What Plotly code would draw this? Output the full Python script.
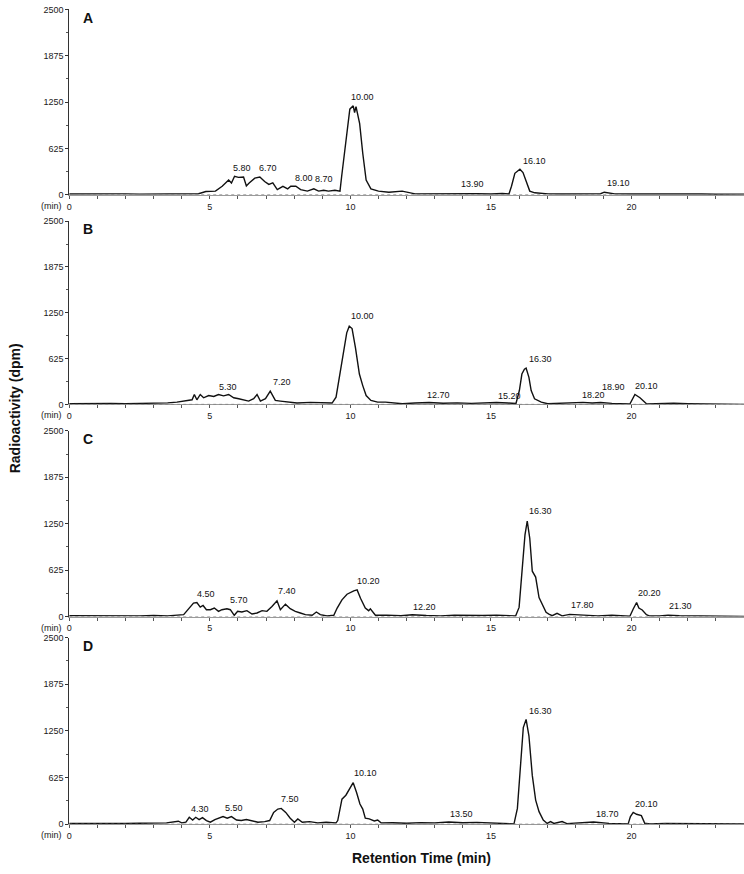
import plotly.graph_objects as go

# retention time (min) and radioactivity (dpm)
t_a = [0.0, 0.5, 1.0, 1.5, 2.0, 2.5, 3.0, 3.5, 4.0, 4.3,
       4.6, 4.86, 5.2, 5.44, 5.67, 5.77, 5.88, 6.02, 6.2, 6.3,
       6.4, 6.6, 6.78, 6.95, 7.1, 7.24, 7.4, 7.6, 7.77, 7.88,
       8.06, 8.23, 8.47, 8.7, 8.87, 9.05, 9.22, 9.45, 9.63, 9.69,
       9.78, 9.86, 9.98, 10.1, 10.15, 10.2, 10.33, 10.44, 10.56, 10.73,
       11.0, 11.37, 11.84, 12.3, 12.8, 13.3, 13.9, 14.5, 15.0, 15.4,
       15.64, 15.73, 15.85, 16.03, 16.14, 16.26, 16.38, 16.56, 17.03, 17.5,
       18.0, 18.5, 18.9, 19.03, 19.15, 19.4, 20.0, 20.5, 21.0, 21.5,
       22.0, 22.5, 23.0, 23.5, 24.0]
y_a = [10, 12, 8, 10, 12, 9, 11, 13, 20, 12,
       15, 44, 50, 115, 200, 160, 250, 235, 240, 120,
       160, 225, 240, 180, 140, 160, 70, 115, 80, 115,
       115, 70, 50, 80, 50, 62, 50, 62, 50, 250,
       520, 780, 1155, 1200, 1110, 1190, 960, 560, 200, 80,
       50, 35, 50, 13, 15, 10, 20, 15, 10, 18,
       10, 115, 290, 345, 300, 160, 50, 27, 13, 10,
       12, 10, 14, 35, 27, 12, 10, 12, 8, 10,
       9, 11, 8, 10, 9]

t_b = [0.0, 0.5, 1.0, 1.5, 2.0, 2.5, 3.0, 3.5, 3.83, 4.13,
       4.37, 4.45, 4.54, 4.66, 4.78, 4.96, 5.14, 5.31, 5.49, 5.67,
       5.85, 6.03, 6.2, 6.38, 6.56, 6.68, 6.8, 6.98, 7.15, 7.33,
       7.51, 7.75, 8.1, 8.58, 9.05, 9.35, 9.49, 9.6, 9.73, 9.87,
       9.96, 10.06, 10.18, 10.32, 10.44, 10.56, 10.73, 10.97, 11.25, 11.85,
       12.3, 12.8, 13.3, 13.8, 14.3, 14.8, 15.2, 15.6, 15.89, 16.01,
       16.1, 16.19, 16.25, 16.35, 16.43, 16.55, 16.79, 17.02, 17.5, 18.0,
       18.27, 18.6, 18.9, 19.3, 19.7, 19.94, 20.12, 20.3, 20.54, 21.0,
       21.5, 22.0, 22.5, 23.0, 23.5, 24.0]
y_b = [10, 14, 8, 12, 9, 11, 14, 20, 30, 54,
       63, 135, 63, 135, 90, 120, 108, 135, 117, 135,
       90, 77, 63, 45, 77, 135, 45, 77, 180, 54,
       45, 32, 18, 27, 18, 18, 99, 369, 684, 976,
       1066, 1035, 774, 414, 256, 121, 54, 31, 31, 9,
       18, 25, 15, 20, 14, 22, 25, 18, 12, 189,
       414, 481, 495, 369, 189, 76, 31, 9, 15, 20,
       27, 18, 25, 14, 12, 5, 135, 90, 5, 12,
       15, 10, 8, 5, 3, 0]

t_c = [0.0, 0.5, 1.0, 1.5, 2.0, 2.5, 3.0, 3.5, 4.07, 4.25,
       4.42, 4.54, 4.66, 4.76, 4.88, 5.02, 5.16, 5.31, 5.43, 5.61,
       5.73, 5.87, 5.99, 6.14, 6.32, 6.5, 6.68, 6.86, 7.03, 7.21,
       7.39, 7.51, 7.69, 7.86, 8.04, 8.22, 8.4, 8.64, 8.79, 8.93,
       9.17, 9.41, 9.53, 9.7, 9.88, 10.12, 10.24, 10.36, 10.53, 10.65,
       10.71, 10.89, 11.3, 11.8, 12.2, 12.7, 13.2, 13.7, 14.2, 14.7,
       15.2, 15.6, 15.88, 16.0, 16.12, 16.21, 16.29, 16.38, 16.47, 16.59,
       16.71, 16.82, 16.96, 17.06, 17.18, 17.35, 17.53, 17.8, 18.3, 18.8,
       19.3, 19.7, 19.94, 20.06, 20.18, 20.26, 20.38, 20.53, 20.65, 21.0,
       21.3, 21.7, 22.2, 22.7, 23.2, 23.6, 24.0]
y_c = [12, 10, 14, 9, 12, 10, 15, 10, 27, 115,
       182, 190, 128, 150, 93, 93, 115, 71, 93, 106,
       93, 18, 71, 62, 80, 35, 49, 80, 71, 137,
       213, 93, 168, 106, 71, 49, 27, 18, 62, 27,
       9, 18, 115, 226, 301, 346, 359, 248, 115, 80,
       106, 18, 20, 12, 25, 15, 10, 18, 12, 15,
       20, 12, 10, 124, 700, 1099, 1285, 1054, 611, 532,
       257, 168, 58, 35, 13, 44, 10, 30, 15, 10,
       18, 12, 5, 102, 190, 115, 89, 27, 8, 10,
       20, 12, 8, 10, 5, 3, 2]

t_d = [0.0, 0.5, 1.0, 1.5, 2.0, 2.5, 3.0, 3.46, 3.88, 4.0,
       4.15, 4.27, 4.39, 4.5, 4.62, 4.74, 4.88, 5.02, 5.18, 5.33,
       5.47, 5.62, 5.77, 5.95, 6.12, 6.3, 6.48, 6.71, 6.95, 7.13,
       7.27, 7.42, 7.54, 7.7, 7.86, 8.01, 8.13, 8.29, 8.55, 8.84,
       9.14, 9.49, 9.55, 9.7, 9.84, 9.98, 10.1, 10.22, 10.34, 10.44,
       10.53, 10.67, 10.85, 10.97, 11.09, 11.5, 12.0, 12.5, 13.0, 13.5,
       14.0, 14.5, 15.0, 15.5, 15.82, 15.94, 16.06, 16.15, 16.25, 16.35,
       16.47, 16.59, 16.71, 16.86, 17.0, 17.12, 17.24, 17.53, 17.7, 18.2,
       18.65, 19.2, 19.6, 19.88, 19.96, 20.06, 20.18, 20.35, 20.47, 20.65,
       21.2, 21.8, 22.4, 23.0, 23.5, 24.0]
y_d = [10, 8, 12, 9, 10, 14, 12, 18, 40, 18,
       27, 93, 57, 93, 62, 88, 49, 27, 62, 80,
       102, 80, 102, 57, 49, 62, 44, 27, 35, 49,
       159, 203, 212, 159, 80, 27, 71, 27, 35, 18,
       27, 18, 49, 336, 389, 477, 557, 424, 270, 203,
       80, 71, 44, 57, 18, 20, 14, 22, 18, 30,
       20, 25, 15, 12, 5, 212, 919, 1295, 1405, 1185,
       654, 323, 168, 57, 10, 35, 10, 35, 8, 15,
       30, 12, 10, 5, 102, 159, 133, 115, 13, 5,
       12, 8, 10, 6, 4, 2]

# peak labels (retention time text) and the dpm level where each label sits
lab_a = ["5.80", "6.70", "8.00", "8.70", "10.00", "13.90", "16.10", "19.10"]
lab_a_y = [270, 270, 137, 115, 1220, 50, 368, 62]
lab_b = ["5.30", "7.20", "10.00", "12.70", "15.20", "16.30", "18.20", "18.90", "20.10"]
lab_b_y = [144, 211, 1111, 31, 18, 526, 27, 144, 153]
lab_c = ["4.50", "5.70", "7.40", "10.20", "12.20", "16.30", "17.80", "20.20", "21.30"]
lab_c_y = [213, 124, 248, 390, 35, 1320, 58, 221, 44]
lab_d = ["4.30", "5.50", "7.50", "10.10", "13.50", "16.30", "18.70", "20.10"]
lab_d_y = [115, 128, 239, 588, 49, 1428, 49, 181]

panel_names = ["A", "B", "C", "D"]
y_ticks = [0, 625, 1250, 1875, 2500]
x_ticks = list(range(0, 25))

W, H = 744, 874
FONT = "Liberation Sans, Arial, sans-serif"

# pixel rows (top, zero line) of each panel in the reference
rows_px = [(4.5, 192), (218.7, 404), (430.7, 618.7), (640, 828.7)]
x_left = 66.5

panels = [(t_a, y_a, lab_a, lab_a_y), (t_b, y_b, lab_b, lab_b_y),
          (t_c, y_c, lab_c, lab_c_y), (t_d, y_d, lab_d, lab_d_y)]

fig = go.Figure()
annotations = []
shapes = []
layout = {}

for i, (t, y, labs, labs_y) in enumerate(panels):
    n = "" if i == 0 else str(i + 1)
    xa, ya = "x" + n, "y" + n
    top, zero = rows_px[i]

    fig.add_trace(go.Scatter(x=t, y=y, mode="lines", xaxis=xa, yaxis=ya,
                             line=dict(color="#111111", width=1.4), showlegend=False,
                             hoverinfo="x+y"))

    layout["xaxis" + n] = dict(
        domain=[x_left / W, 1], range=[0, 24], anchor=ya,
        tickvals=x_ticks, ticktext=[str(v) if v % 5 == 0 else "" for v in x_ticks],
        ticks="outside", ticklen=3, tickcolor="#555555", tickwidth=1,
        showline=True, linecolor="#9a9a9a", linewidth=1,
        showgrid=False, zeroline=False,
        tickfont=dict(family=FONT, size=9, color="#1a1a1a"),
    )
    layout["yaxis" + n] = dict(
        domain=[1 - zero / H, 1 - top / H], range=[0, 2500], anchor=xa,
        tickvals=y_ticks, ticks="outside", ticklen=3, tickcolor="#333333",
        showline=True, linecolor="#333333", linewidth=1,
        showgrid=False, zeroline=False,
        minor=dict(tickvals=[312.5, 937.5, 1562.5, 2187.5], ticks="outside",
                   ticklen=2, tickcolor="#555555"),
        tickfont=dict(family=FONT, size=9, color="#1a1a1a"),
    )

    # dotted baseline
    shapes.append(dict(type="line", xref=xa + " domain", x0=0, x1=1,
                       yref=ya, y0=0, y1=0,
                       line=dict(color="#777777", width=1, dash="dot")))

    # panel letter
    annotations.append(dict(text="<b>%s</b>" % panel_names[i], xref=xa + " domain", x=0.017,
                            yref=ya + " domain", y=1.01, xanchor="left", yanchor="top",
                            showarrow=False, font=dict(family=FONT, size=14, color="#111111")))
    # "(min)" next to the 0 tick label
    annotations.append(dict(text="(min)", xref="paper", x=61 / W, yref=ya + " domain", y=0,
                            xanchor="right", yanchor="top", yshift=-4, showarrow=False,
                            font=dict(family=FONT, size=9, color="#1a1a1a")))
    # peak labels
    for lab, ly in zip(labs, labs_y):
        annotations.append(dict(text=lab, xref=xa, x=float(lab), yref=ya, y=ly,
                                xanchor="left", yanchor="bottom", showarrow=False,
                                xshift=-1, font=dict(family=FONT, size=9, color="#111111")))

annotations.append(dict(text="<b>Radioactivity (dpm)</b>", xref="paper", x=12 / W,
                        yref="paper", y=1 - 408 / H, textangle=-90, showarrow=False,
                        xanchor="center", yanchor="middle",
                        font=dict(family=FONT, size=14, color="#111111")))
annotations.append(dict(text="<b>Retention Time (min)</b>", xref="paper", x=420 / W,
                        yref="paper", y=1 - 863 / H, showarrow=False,
                        xanchor="center", yanchor="middle",
                        font=dict(family=FONT, size=14, color="#111111")))

fig.update_layout(
    width=W, height=H,
    margin=dict(l=0, r=0, t=0, b=0),
    paper_bgcolor="white", plot_bgcolor="white",
    annotations=annotations, shapes=shapes,
    **layout,
)

# drop the browser's default page margin so the figure sits at the window corner
fig.write_html("out.html", config={"displayModeBar": False},
               post_script="document.body.style.margin='0';")
